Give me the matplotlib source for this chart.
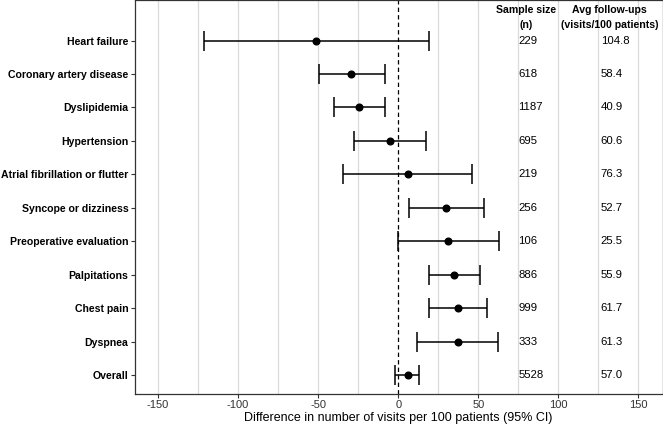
import numpy as np
import matplotlib
matplotlib.use("Agg")
import matplotlib.pyplot as plt

plt.rcParams['font.family'] = ['Liberation Sans', 'DejaVu Sans']
plt.rcParams['axes.unicode_minus'] = False

# top to bottom as drawn
labels = ["Heart failure", "Coronary artery disease", "Dyslipidemia", "Hypertension",
          "Atrial fibrillation or flutter", "Syncope or dizziness", "Preoperative evaluation",
          "Palpitations", "Chest pain", "Dyspnea", "Overall"]
estimate = [-51.3, -29.4, -24.4, -5.2, 5.8, 30.0, 31.0, 35.0, 37.0, 37.0, 5.8]
lower = [-121.4, -49.8, -40.0, -27.7, -34.2, 6.9, -0.2, 19.0, 19.0, 12.0, -1.9]
upper = [19.4, -8.5, -8.5, 17.5, 46.0, 53.3, 62.7, 51.2, 55.4, 62.3, 13.1]
sample_n = ["229", "618", "1187", "695", "219", "256", "106", "886", "999", "333", "5528"]
avg_follow = ["104.8", "58.4", "40.9", "60.6", "76.3", "52.7", "25.5", "55.9", "61.7", "61.3", "57.0"]

n = len(labels)
ypos = np.arange(n, 0, -1)

fig = plt.figure(figsize=(6.63, 4.25), dpi=100)
ax = fig.add_axes([134.5 / 663, 31 / 425, (662.5 - 134.5) / 663, 394.5 / 425])

for g in np.arange(-150, 151, 25):
    if g != 0:
        ax.axvline(g, color="#dadada", lw=0.9, zorder=0)
ax.axvline(0, color="black", lw=0.9, ls=(0, (3.5, 2.5)), zorder=1)

est = np.array(estimate)
lo = np.array(lower)
hi = np.array(upper)
ax.errorbar(est, ypos, xerr=[est - lo, hi - est], fmt="o", color="black",
            ms=4.8, elinewidth=1.1, capsize=7.5, capthick=1.1, zorder=3)

for y, s, a in zip(ypos, sample_n, avg_follow):
    ax.text(75, y, s, ha="left", va="center", fontsize=8.2)
    ax.text(126.5, y, a, ha="left", va="center", fontsize=8.2)

ax.text(80, n + 0.7, "Sample size\n(n)", ha="center", va="center",
        fontsize=7.6, fontweight="bold", linespacing=1.65)
ax.text(132, n + 0.7, "Avg follow-ups\n(visits/100 patients)", ha="center", va="center",
        fontsize=7.6, fontweight="bold", linespacing=1.65)

ax.set_xlim(-164.7, 165)
ax.set_ylim(0.43, n + 1.23)
ax.set_yticks(ypos)
ax.set_yticklabels(labels, fontsize=7.6, fontweight="bold")
ax.set_xticks([-150, -100, -50, 0, 50, 100, 150])
ax.tick_params(axis="x", labelsize=8, colors="#333333", length=3, width=0.8, pad=1.5)
ax.tick_params(axis="y", length=3, width=0.8, colors="#333333", labelcolor="black", pad=1.5)
ax.set_xlabel("Difference in number of visits per 100 patients (95% CI)", fontsize=9, labelpad=1)

for side in ["left", "bottom", "top", "right"]:
    ax.spines[side].set_linewidth(0.9)
    ax.spines[side].set_color("#333333")

fig.savefig("out.png", dpi=100)
